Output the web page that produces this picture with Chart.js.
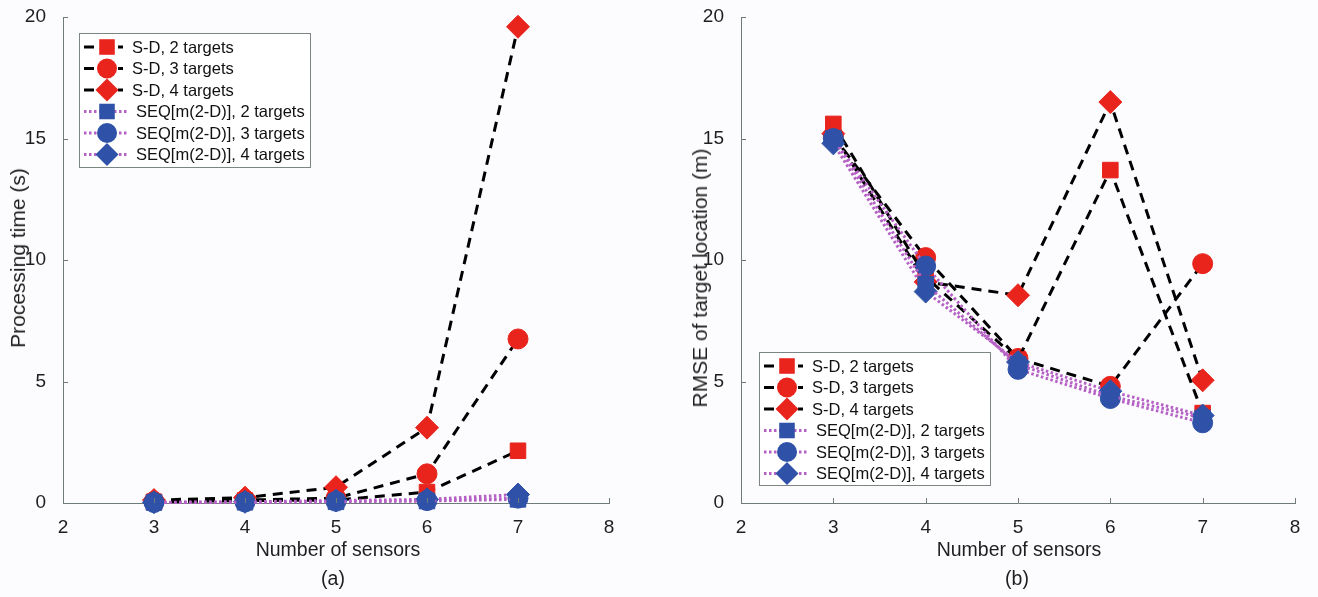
<!DOCTYPE html>
<html><head><meta charset="utf-8">
<script src="https://cdn.jsdelivr.net/npm/chart.js@4.4.1/dist/chart.umd.min.js"></script>
<style>
body{margin:0;background:#fcfcfe;width:1318px;height:597px;overflow:hidden;font-family:"Liberation Sans",Arial,sans-serif;color:#1e1e1e;}
.wrap{position:absolute;top:0;width:659px;height:597px;}
.lbl{position:absolute;font-size:19.5px;white-space:nowrap;transform:translate(-50%,-50%);}
.ylbl{font-size:21px;transform:translate(-50%,-50%) rotate(-90deg);}
</style></head><body>
<div class="wrap" style="left:0"><canvas id="c1" width="659" height="597"></canvas></div>
<div class="wrap" style="left:659px"><canvas id="c2" width="659" height="597"></canvas></div>
<div class="lbl" style="left:338px;top:549px">Number of sensors</div>
<div class="lbl" style="left:1019px;top:549px">Number of sensors</div>
<div class="lbl" style="left:333px;top:578px">(a)</div>
<div class="lbl" style="left:1017px;top:578px">(b)</div>
<div class="lbl ylbl" style="left:18px;top:258px">Processing time (s)</div>
<div class="lbl ylbl" style="left:700px;top:278px">RMSE of target location (m)</div>
<script>
// ---- data ----
const sensors = [3, 4, 5, 6, 7];
const xTicks = [2, 3, 4, 5, 6, 7, 8];
const yTicks = [0, 5, 10, 15, 20];
const seriesNames = ['S-D, 2 targets', 'S-D, 3 targets', 'S-D, 4 targets',
  'SEQ[m(2-D)], 2 targets', 'SEQ[m(2-D)], 3 targets', 'SEQ[m(2-D)], 4 targets'];
// (a) processing time (s)
const timeSD2 = [0.05, 0.1, 0.12, 0.45, 2.15];
const timeSD3 = [0.06, 0.12, 0.2, 1.2, 6.75];
const timeSD4 = [0.12, 0.22, 0.65, 3.1, 19.6];
const timeSEQ2 = [0.02, 0.03, 0.05, 0.08, 0.15];
const timeSEQ3 = [0.02, 0.04, 0.07, 0.1, 0.2];
const timeSEQ4 = [0.03, 0.05, 0.1, 0.15, 0.35];
// (b) RMSE of target location (m)
const rmseSD2 = [15.6, 9.3, 5.9, 13.7, 3.7];
const rmseSD3 = [15.1, 10.1, 5.95, 4.8, 9.85];
const rmseSD4 = [15.2, 9.1, 8.55, 16.5, 5.05];
const rmseSEQ2 = [15.0, 9.0, 5.7, 4.4, 3.5];
const rmseSEQ3 = [15.0, 9.75, 5.5, 4.3, 3.3];
const rmseSEQ4 = [14.8, 8.7, 5.8, 4.6, 3.6];

// ---- styles ----
const RED = '#e8241d', BLUE = '#2f52a8', PURPLE = '#b560c4', AXIS = '#6f7a7a';
const FONT = '"Liberation Sans", Arial, sans-serif';
const styles = [
  {kind: 'sd', shape: 'rect', r: 11, color: RED},
  {kind: 'sd', shape: 'circle', r: 10, color: RED},
  {kind: 'sd', shape: 'rectRot', r: 11.5, color: RED},
  {kind: 'seq', shape: 'rect', r: 11, color: BLUE},
  {kind: 'seq', shape: 'circle', r: 10, color: BLUE},
  {kind: 'seq', shape: 'rectRot', r: 11.5, color: BLUE}
];

function makeDatasets(arrs) {
  return arrs.map((vals, i) => {
    const s = styles[i];
    return {
      label: seriesNames[i],
      data: sensors.map((x, k) => ({x: x, y: vals[k]})),
      borderColor: s.kind === 'sd' ? '#000' : PURPLE,
      borderWidth: 3,
      borderDash: s.kind === 'sd' ? [10, 7] : [2.5, 2.5],
      pointStyle: s.shape,
      pointRadius: s.r,
      pointHoverRadius: s.r,
      pointBackgroundColor: s.color,
      pointBorderColor: s.color,
      pointBorderWidth: 1,
      tension: 0,
      fill: false,
      clip: false,
      order: s.kind === 'sd' ? 2 : 1
    };
  });
}

function drawMarker(ctx, shape, x, y, r, color) {
  ctx.fillStyle = color;
  ctx.beginPath();
  if (shape === 'rect') {
    const h = r * Math.SQRT1_2;
    ctx.rect(x - h, y - h, 2 * h, 2 * h);
  } else if (shape === 'circle') {
    ctx.arc(x, y, r, 0, Math.PI * 2);
  } else {
    ctx.moveTo(x, y - r); ctx.lineTo(x + r, y); ctx.lineTo(x, y + r); ctx.lineTo(x - r, y); ctx.closePath();
  }
  ctx.fill();
}

const decor = {
  id: 'decor',
  afterDraw(chart, args, opts) {
    const ctx = chart.ctx, xs = chart.scales.x, ys = chart.scales.y;
    ctx.save();
    ctx.strokeStyle = AXIS; ctx.lineWidth = 1; ctx.setLineDash([]);
    xTicks.forEach(v => {
      const px = Math.round(xs.getPixelForValue(v)) + 0.5;
      ctx.beginPath(); ctx.moveTo(px, ys.bottom); ctx.lineTo(px, ys.bottom - 5); ctx.stroke();
    });
    yTicks.forEach(v => {
      const py = Math.round(ys.getPixelForValue(v)) + 0.5;
      ctx.beginPath(); ctx.moveTo(xs.left, py); ctx.lineTo(xs.left + 5, py); ctx.stroke();
    });
    // legend
    const L = opts.legend;
    ctx.fillStyle = '#ffffff';
    ctx.fillRect(L.x, L.y, L.w, L.h);
    ctx.strokeStyle = '#7c8484'; ctx.lineWidth = 1;
    ctx.strokeRect(L.x + 0.5, L.y + 0.5, L.w, L.h);
    ctx.font = '16.5px ' + FONT;
    ctx.textBaseline = 'middle';
    seriesNames.forEach((name, i) => {
      const s = styles[i];
      const y = L.y + 14 + i * 21.5;
      const x0 = L.x + 5, x1 = L.x + (s.kind === 'sd' ? 44 : 50);
      const mx = L.x + 28;
      ctx.lineWidth = 3;
      ctx.strokeStyle = s.kind === 'sd' ? '#000' : PURPLE;
      ctx.setLineDash(s.kind === 'sd' ? [10, 7] : [2.5, 2.5]);
      ctx.beginPath(); ctx.moveTo(x0, y); ctx.lineTo(x1, y); ctx.stroke();
      ctx.setLineDash([]);
      drawMarker(ctx, s.shape, mx, y, s.r, s.color);
      ctx.fillStyle = '#111';
      ctx.fillText(name, L.x + (s.kind === 'sd' ? 53 : 57), y + 1);
    });
    ctx.restore();
  }
};

function makeChart(id, arrs, areaLeft, areaRight, legend) {
  return new Chart(document.getElementById(id), {
    type: 'line',
    data: {datasets: makeDatasets(arrs)},
    options: {
      responsive: false,
      animation: false,
      devicePixelRatio: 1,
      layout: {padding: {top: 17, right: 659 - areaRight, left: 0, bottom: 0}},
      plugins: {legend: {display: false}, tooltip: {enabled: false}, decor: {legend: legend}},
      scales: {
        x: {
          type: 'linear', min: 2, max: 8,
          afterFit: s => { s.height = 94; s.paddingLeft = 0; s.paddingRight = 0; },
          afterBuildTicks: s => { s.ticks = xTicks.map(v => ({value: v})); },
          grid: {display: false},
          border: {display: true, color: AXIS, width: 1},
          ticks: {color: '#1e1e1e', padding: 5, font: {size: 19, family: FONT}, maxRotation: 0}
        },
        y: {
          type: 'linear', min: 0, max: 20,
          afterFit: s => { s.width = areaLeft; s.paddingTop = 0; s.paddingBottom = 0; },
          afterBuildTicks: s => { s.ticks = yTicks.map(v => ({value: v})); },
          grid: {display: false},
          border: {display: true, color: AXIS, width: 1},
          ticks: {color: '#1e1e1e', padding: 9, font: {size: 19, family: FONT}}
        }
      }
    },
    plugins: [decor]
  });
}

makeChart('c1', [timeSD2, timeSD3, timeSD4, timeSEQ2, timeSEQ3, timeSEQ4], 63, 609,
  {x: 79, y: 33, w: 231, h: 134});
makeChart('c2', [rmseSD2, rmseSD3, rmseSD4, rmseSEQ2, rmseSEQ3, rmseSEQ4], 82, 636,
  {x: 100, y: 352, w: 231, h: 133});
</script>
</body></html>
